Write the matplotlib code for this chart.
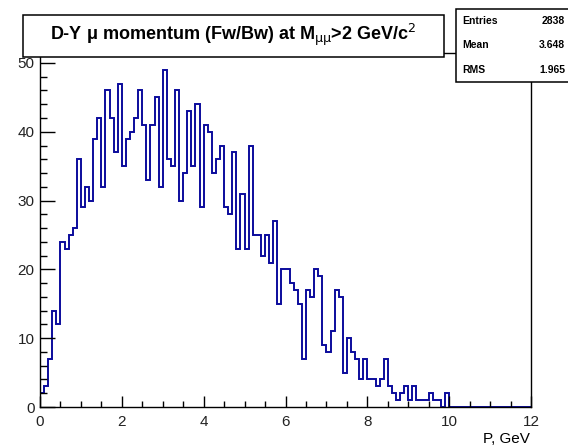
import matplotlib

matplotlib.use("Agg")

import matplotlib.pyplot as plt
import numpy as np
from matplotlib.patches import Rectangle
from matplotlib.ticker import MultipleLocator

plt.rcParams["font.family"] = ["Liberation Sans", "DejaVu Sans"]
plt.rcParams["mathtext.fontset"] = "dejavusans"

# histogram: 120 bins of 0.1 GeV between 0 and 12 GeV
x_min, x_max, n_bins = 0.0, 12.0, 120
counts = [
    2, 3, 7, 14, 12, 24, 23, 25, 26, 36,
    29, 32, 30, 39, 42, 32, 46, 42, 37, 47,
    35, 39, 40, 42, 46, 41, 33, 41, 45, 32,
    49, 36, 35, 46, 30, 34, 43, 35, 44, 29,
    41, 40, 34, 36, 38, 29, 28, 37, 23, 31,
    23, 38, 25, 25, 22, 25, 21, 27, 15, 20,
    20, 18, 17, 15, 7, 17, 16, 20, 19, 9,
    8, 11, 17, 16, 5, 10, 8, 7, 4, 7,
    4, 4, 3, 4, 7, 3, 2, 1, 2, 3,
    1, 3, 1, 1, 1, 2, 1, 1, 0, 2,
    0, 0, 0, 0, 0, 0, 0, 0, 0, 0,
    0, 0, 0, 0, 0, 0, 0, 0, 0, 0,
]

title = "D-Y μ momentum (Fw/Bw) at M$_{\\mathrm{\\mu\\mu}}$>2 GeV/c$^{2}$"
x_label = "P, GeV"
stat_names = ["Entries", "Mean", "RMS"]
stat_values = ["2838", "3.648", "1.965"]

LINE = "#0b0b9c"
W, H = 568, 448


def fx(px):
    return px / W


def fy(py):
    return 1 - py / H


edges = np.linspace(x_min, x_max, n_bins + 1)

fig = plt.figure(figsize=(W / 100, H / 100), dpi=100)
ax = fig.add_axes([fx(40), fy(407), fx(531) - fx(40), fy(53) - fy(407)])

ax.stairs(counts, edges, color=LINE, linewidth=1.4)
ax.set_xlim(x_min, x_max)
ax.set_ylim(0, max(counts) * 1.05)

ax.xaxis.set_major_locator(MultipleLocator(2))
ax.xaxis.set_minor_locator(MultipleLocator(0.5))
ax.yaxis.set_major_locator(MultipleLocator(10))
ax.yaxis.set_minor_locator(MultipleLocator(2))
ax.tick_params(which="both", direction="in", top=False, right=False,
               labelsize=11, labelcolor="#222222", width=1.0)
ax.tick_params(axis="x", which="major", length=8, pad=6)
ax.tick_params(axis="x", which="minor", length=4.3)
ax.tick_params(axis="y", which="major", length=10.5, pad=4)
ax.tick_params(axis="y", which="minor", length=5)
for sp in ax.spines.values():
    sp.set_linewidth(1.0)

fig.text(fx(530), fy(439), x_label, ha="right", va="center", fontsize=11)

# title box
fig.add_artist(Rectangle((fx(23), fy(57)), fx(444) - fx(23), fy(15) - fy(57),
                         transform=fig.transFigure, facecolor="white",
                         edgecolor="black", linewidth=1.1, zorder=5))
fig.text(fx(233), fy(35), title, ha="center", va="center",
         fontsize=13, fontweight="bold", zorder=6)

# stats box
fig.add_artist(Rectangle((fx(456), fy(82)), fx(620) - fx(456), fy(9) - fy(82),
                         transform=fig.transFigure, facecolor="white",
                         edgecolor="black", linewidth=1.1, zorder=5))
for i, (name, val) in enumerate(zip(stat_names, stat_values)):
    yy = 21 + i * 24.5
    fig.text(fx(462), fy(yy), name, ha="left", va="center", fontsize=7.5,
             fontweight="bold", zorder=6)
    fig.text(fx(565), fy(yy), val, ha="right", va="center", fontsize=7.5,
             fontweight="bold", zorder=6)

fig.savefig("out.png", dpi=100)
